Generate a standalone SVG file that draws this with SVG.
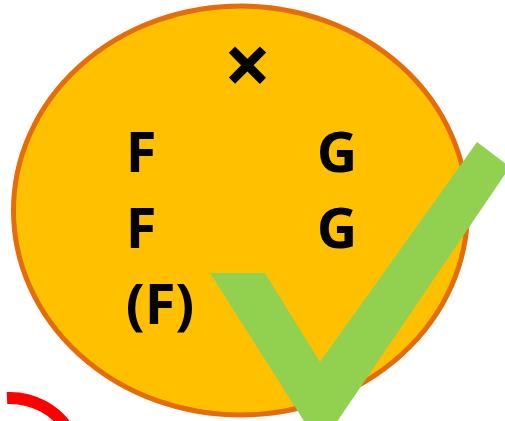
<svg xmlns="http://www.w3.org/2000/svg" width="505" height="421" viewBox="0 0 505 421">
<style>
.t{font-family:"Open Sans","DejaVu Sans",sans-serif;font-weight:bold;font-size:56px;fill:#000;text-anchor:middle}
</style>
<rect width="505" height="421" fill="#fff"/>
<g id="ellipse">
<ellipse cx="240.5" cy="210.5" rx="227" ry="204.5" fill="#FFC000" stroke="#E46C0A" stroke-width="5"/>
</g>
<g id="labels">
<text class="t" x="247.5" y="94.5" style="font-size:84px">×</text>
<text class="t" x="141" y="172">F</text>
<text class="t" x="337" y="172">G</text>
<text class="t" x="141" y="248">F</text>
<text class="t" x="337" y="248">G</text>
<text class="t" x="160" y="324">(F)</text>
</g>
<g id="check">
<polygon points="210,273 265,273 320,362 477,142 510,167 330,432 311,432" fill="#92D050"/>
</g>
<g id="arc">
<path d="M7 398 A70 70 0 0 1 70 432" fill="none" stroke="#FF0000" stroke-width="12"/>
</g>
</svg>
